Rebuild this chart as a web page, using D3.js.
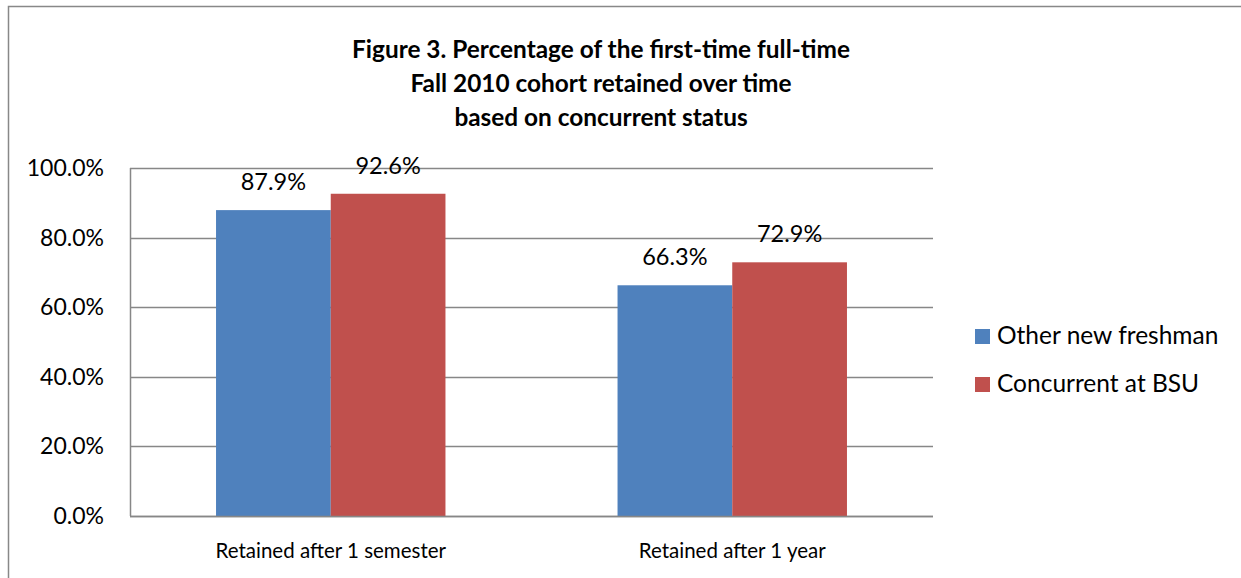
<!DOCTYPE html>
<html>
<head>
<meta charset="utf-8">
<script src="https://cdn.jsdelivr.net/npm/d3@7"></script>
<style>
  body { margin: 0; background: #fff; }
  svg text { font-family: Lato, "Open Sans", sans-serif; fill: #000; }
</style>
</head>
<body>
<svg id="canvas" width="1241" height="578"></svg>
<script>
// data
const categories = ["Retained after 1 semester", "Retained after 1 year"];
const seriesNames = ["Other new freshman", "Concurrent at BSU"];
const otherNew = [87.9, 66.3];
const concurrent = [92.6, 72.9];
const yTicks = [0, 20, 40, 60, 80, 100];
const titleLines = [
  "Figure 3. Percentage of the first-time full-time",
  "Fall 2010 cohort retained over time",
  "based on concurrent status"
];
const colors = ["#4F81BD", "#C0504D"];

const svg = d3.select("#canvas");

// outer chart frame (only left + top visible)
svg.append("rect")
  .attr("x", 8.5).attr("y", 6.5)
  .attr("width", 1300).attr("height", 700)
  .attr("fill", "none")
  .attr("stroke", "#888")
  .attr("stroke-width", 1.5);

const plot = { left: 130, right: 933, top: 168, bottom: 516 };

const x0 = d3.scaleBand()
  .domain(categories)
  .range([plot.left, plot.right])
  .paddingInner(0)
  .paddingOuter(0);

// Excel gap width 150% -> each bar = band / 3.5
const barW = x0.bandwidth() / 3.5;
const x1 = d3.scaleBand()
  .domain(seriesNames)
  .range([0, barW * 2]);

const y = d3.scaleLinear().domain([0, 100]).range([plot.bottom, plot.top]);

// gridlines
svg.append("g")
  .selectAll("line")
  .data(yTicks)
  .join("line")
  .attr("x1", plot.left).attr("x2", plot.right)
  .attr("y1", d => Math.round(y(d)) + 0.5).attr("y2", d => Math.round(y(d)) + 0.5)
  .attr("stroke", "#878787")
  .attr("stroke-width", 1.5);

// y axis line
svg.append("line")
  .attr("x1", plot.left + 0.5).attr("x2", plot.left + 0.5)
  .attr("y1", plot.top).attr("y2", plot.bottom)
  .attr("stroke", "#878787")
  .attr("stroke-width", 1.5);

// y tick labels
svg.append("g")
  .selectAll("text")
  .data(yTicks)
  .join("text")
  .attr("x", 104)
  .attr("y", d => y(d) + 8)
  .attr("text-anchor", "end")
  .attr("font-size", 23)
  .text(d => d3.format(".1f")(d) + "%");

// bars
const rows = categories.map((c, i) => ({ cat: c, vals: [otherNew[i], concurrent[i]] }));

const groups = svg.append("g")
  .selectAll("g")
  .data(rows)
  .join("g")
  .attr("transform", d => `translate(${x0(d.cat) + x0.bandwidth() / 2 - barW},0)`);

groups.selectAll("rect")
  .data(d => d.vals.map((v, j) => ({ name: seriesNames[j], v, j })))
  .join("rect")
  .attr("x", d => x1(d.name))
  .attr("y", d => y(d.v))
  .attr("width", x1.bandwidth())
  .attr("height", d => y(0) - y(d.v))
  .attr("fill", d => colors[d.j]);

groups.selectAll("text")
  .data(d => d.vals.map((v, j) => ({ name: seriesNames[j], v, j })))
  .join("text")
  .attr("x", d => x1(d.name) + x1.bandwidth() / 2)
  .attr("y", d => y(d.v) - 20)
  .attr("text-anchor", "middle")
  .attr("font-size", 23.5)
  .text(d => d3.format(".1f")(d.v) + "%");

// redraw baseline over bars
svg.append("line")
  .attr("x1", plot.left).attr("x2", plot.right)
  .attr("y1", plot.bottom + 0.5).attr("y2", plot.bottom + 0.5)
  .attr("stroke", "#878787")
  .attr("stroke-width", 1.5);

// category labels
svg.append("g")
  .selectAll("text")
  .data(categories)
  .join("text")
  .attr("x", d => x0(d) + x0.bandwidth() / 2)
  .attr("y", 558)
  .attr("text-anchor", "middle")
  .attr("font-size", 20.5)
  .text(d => d);

// title
svg.append("text")
  .attr("text-anchor", "middle")
  .attr("font-size", 24.4)
  .attr("font-weight", "bold")
  .selectAll("tspan")
  .data(titleLines)
  .join("tspan")
  .attr("x", 601)
  .attr("y", (d, i) => 58 + i * 34)
  .text(d => d);

// legend
const legend = svg.append("g")
  .selectAll("g")
  .data(seriesNames)
  .join("g")
  .attr("transform", (d, i) => `translate(975,${329 + i * 48})`);

legend.append("rect")
  .attr("width", 15).attr("height", 15)
  .attr("fill", (d, i) => colors[i]);

legend.append("text")
  .attr("x", 22)
  .attr("y", 15)
  .attr("font-size", 24.5)
  .text(d => d);
</script>
</body>
</html>
